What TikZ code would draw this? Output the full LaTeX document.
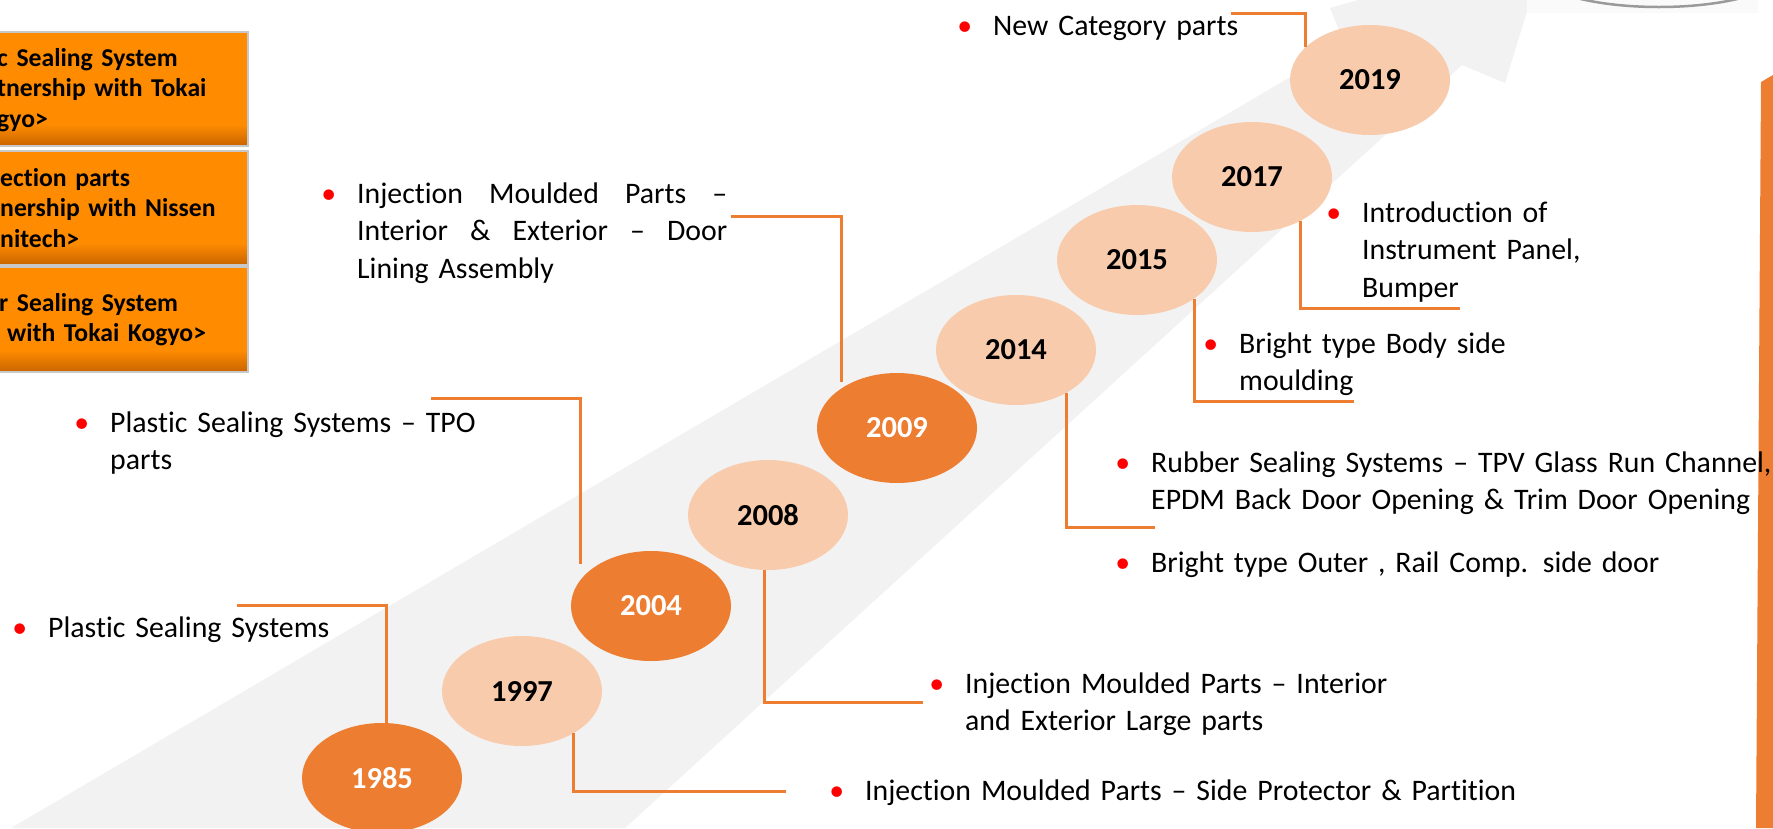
\documentclass[tikz,border=0pt]{standalone}
\usepackage{fontspec}
\setmainfont{Carlito}[Ligatures={NoCommon}]
\usetikzlibrary{shapes.geometric}
\definecolor{dor}{HTML}{ED7D31}
\definecolor{peach}{HTML}{F8CBAD}
\definecolor{band}{HTML}{F2F2F2}
\definecolor{boxor}{HTML}{FF8C00}
\definecolor{boxdk}{HTML}{C86400}
\definecolor{boxbd}{HTML}{C8C8C8}
\definecolor{bulred}{HTML}{FF0000}
\definecolor{ringgray}{HTML}{9A9A9A}
\definecolor{offwhite}{HTML}{FAFAFA}
\newcommand{\mybul}{\leavevmode\llap{\textcolor{bulred}{\textbullet}\hspace{21pt}}}
\newcommand{\jline}[1]{\leavevmode\hbox to 370pt{#1}}
\tikzset{
 yr/.style={ellipse, minimum width=160pt, minimum height=110pt, inner sep=0pt, font=\fontsize{30.5}{36}\selectfont\bfseries},
 yrdark/.style={yr, fill=dor, text=white},
 yrlight/.style={yr, fill=peach, text=black},
 conn/.style={draw=dor, line width=3pt},
 txt/.style={anchor=base west, inner sep=0pt, align=left, text width=720pt, font=\fontsize{29.8}{37.5}\selectfont},
 boxtxt/.style={anchor=base west, inner sep=0pt, align=left, text width=300pt, font=\fontsize{25.7}{30.5}\selectfont\bfseries},
 boxfill/.style={fill=boxor},
 boxline/.style={draw=boxbd, line width=2pt},
}
\begin{document}
\begin{tikzpicture}[x=1pt,y=-1pt]
\useasboundingbox (0,0) rectangle (1773,828);
\clip (0,0) rectangle (1773,828);
\fill[white] (0,0) rectangle (1773,828);
% big light arrow
\fill[band] (11,828) -- (1345,45) -- (1330,8) -- (1547,-54) -- (1505,83) -- (1462,65) -- (625,828) -- cycle;
% top right decoration
\fill[offwhite] (1527,0) rectangle (1758,13);
\draw[ringgray, line width=2.5pt] (1659,-30) ellipse [x radius=126, y radius=37];
% right orange bar
\fill[dor] (1761,82) -- (1773,75) -- (1773,828) -- (1756,828) -- cycle;
% left boxes
\foreach \ya/\yb in {32/146, 151/265, 267/372}{
  \fill[boxfill] (-5,\ya) rectangle (248,\yb);
  \shade[top color=boxor, bottom color=boxdk] (-5,\yb-22) rectangle (248,\yb);
  \draw[boxline] (-5,\ya) rectangle (248,\yb);
}
\node[boxtxt] (box1) at (-3,66) {c Sealing System\\tnership with Tokai\\gyo>};
\node[boxtxt] (box2) at (0,186) {ection parts\\nership with Nissen\\nitech>};
\node[boxtxt] (box3) at (-1,311) {r Sealing System\\\hspace*{8pt}with Tokai Kogyo>};
% year ellipses
\node[yrdark]  (e1985) at (382,778) {1985};
\node[yrlight] (e1997) at (522,691) {1997};
\node[yrdark]  (e2004) at (651,606) {2004};
\node[yrlight] (e2008) at (768,515) {2008};
\node[yrdark]  (e2009) at (897,428) {2009};
\node[yrlight] (e2014) at (1016,350) {2014};
\node[yrlight] (e2015) at (1137,260) {2015};
\node[yrlight] (e2017) at (1252,177) {2017};
\node[yrlight] (e2019) at (1370,80) {2019};
% texts
\node[txt] (t1985) at (48,637) {\mybul Plastic Sealing Systems};
\node[txt] (t2004) at (110,432) {\mybul Plastic Sealing Systems – TPO\\parts};
\node[txt] (t2009) at (357,203) {\mybul\jline{Injection\hfill Moulded\hfill Parts\hfill –}\\\jline{Interior\hfill \&\hfill Exterior\hfill –\hfill Door}\\Lining Assembly};
\node[txt] (t2019) at (993,35) {\mybul New Category parts};
\node[txt] (t2017) at (1362,222) {\mybul Introduction of\\Instrument Panel,\\Bumper};
\node[txt] (t2015) at (1239,353) {\mybul Bright type Body side\\moulding};
\node[txt] (t2014a) at (1151,472) {\mybul Rubber Sealing Systems – TPV Glass Run Channel,\\EPDM Back Door Opening \& Trim Door Opening};
\node[txt] (t2014b) at (1151,572) {\mybul Bright type Outer , Rail Comp. side door};
\node[txt] (t2008) at (965,693) {\mybul Injection Moulded Parts – Interior\\and Exterior Large parts};
\node[txt] (t1997) at (865,800) {\mybul Injection Moulded Parts – Side Protector \& Partition};
% connector ends
\coordinate (c1985) at (237,605);
\coordinate (c1997) at (786,791);
\coordinate (c2004) at (431,398);
\coordinate (c2008) at (923,702);
\coordinate (c2009) at (731,216);
\coordinate (c2014) at (1155,527);
\coordinate (c2015) at (1354,401);
\coordinate (c2017) at (1460,308);
\coordinate (c2019) at (1231,13);
% connectors
\draw[conn] (e1985.85) |- (c1985);
\draw[conn] (e1997.-39) |- (c1997);
\draw[conn] ([yshift=15pt]e2004.159) |- (c2004);
\draw[conn] (e2008.-94) |- (c2008);
\draw[conn] ([yshift=6pt]e2009.144) |- (c2009);
\draw[conn] (e2014.-40) |- (c2014);
\draw[conn] (e2015.-34) |- (c2015);
\draw[conn] (e2017.-42) |- (c2017);
\draw[conn] (e2019.153) |- (c2019);
\end{tikzpicture}
\end{document}
